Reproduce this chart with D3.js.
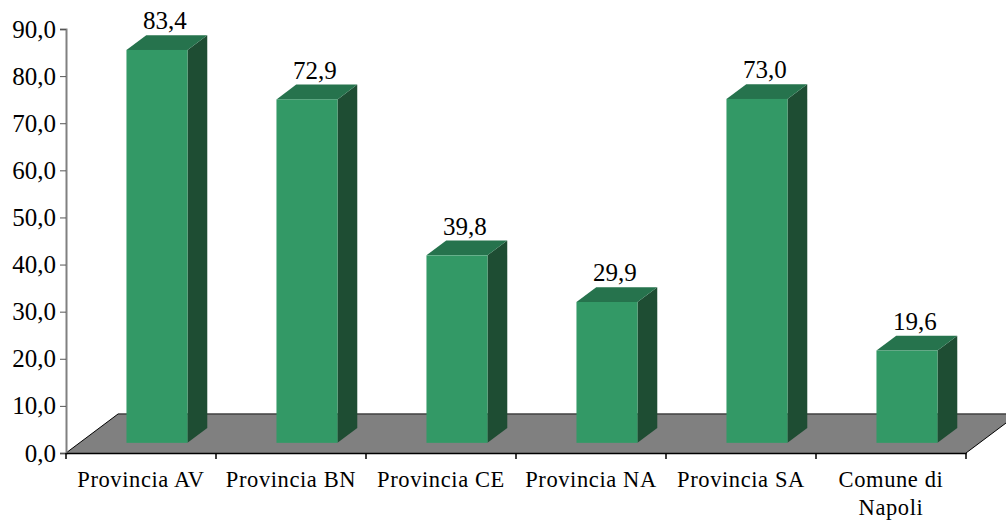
<!DOCTYPE html>
<html>
<head>
<meta charset="utf-8">
<script src="https://cdn.jsdelivr.net/npm/d3@7"></script>
<style>
  body { margin: 0; background: #fff; }
</style>
</head>
<body>
<div id="output"></div>
<script>
// Chart data
const categories = ["Provincia AV", "Provincia BN", "Provincia CE", "Provincia NA", "Provincia SA", "Comune di Napoli"];
const categoryLines = [["Provincia AV"], ["Provincia BN"], ["Provincia CE"], ["Provincia NA"], ["Provincia SA"], ["Comune di", "Napoli"]];
const values = [83.4, 72.9, 39.8, 29.9, 73.0, 19.6];
const yTicks = [0, 10, 20, 30, 40, 50, 60, 70, 80, 90];

const FONT = "Liberation Serif";

function PlotGraph(parent_element = "output") {
  const W = 1006, H = 523;
  const left = 66, right = 966, top = 29, bottom = 453;

  // 3D floor depth and bar placement along depth
  const depthX = 52, depthY = 39;
  const f1 = 0.26, f2 = 0.64;

  const locale = d3.formatLocale({decimal: ",", thousands: ".", grouping: [3], currency: ["", " €"]});
  const fmt = locale.format(".1f");

  const x = d3.scaleBand().domain(categories).range([left, right]).padding(0);
  const y = d3.scaleLinear().domain([0, 90]).range([bottom, top]);

  const svg = d3.select("#" + parent_element).append("svg")
    .attr("width", W)
    .attr("height", H)
    .attr("font-family", FONT);

  // Floor
  const floor = [[left, bottom], [right, bottom], [right + depthX, bottom - depthY], [left + depthX, bottom - depthY]];
  svg.append("polygon")
    .attr("points", floor.map(p => p.join(",")).join(" "))
    .attr("fill", "#808080")
    .attr("stroke", "none");
  svg.append("line")
    .attr("x1", left + depthX).attr("x2", right + depthX)
    .attr("y1", bottom - depthY).attr("y2", bottom - depthY)
    .attr("stroke", "#404040").attr("stroke-width", 1.5);
  [left, right].forEach(px => {
    svg.append("line")
      .attr("x1", px).attr("y1", bottom)
      .attr("x2", px + depthX).attr("y2", bottom - depthY)
      .attr("stroke", "#000").attr("stroke-width", 1);
  });

  // Bars
  const step = x.step();
  const barW = step * 0.407;
  const ax = f1 * depthX, ay = f1 * depthY;
  const bx = f2 * depthX, by = f2 * depthY;

  categories.forEach((c, i) => {
    const v = values[i];
    const x0 = x(c) + step * 0.313;
    const yt = y(v), yb = y(0);

    // side face
    svg.append("polygon")
      .attr("points", [
        [x0 + barW + ax, yt - ay], [x0 + barW + bx, yt - by],
        [x0 + barW + bx, yb - by], [x0 + barW + ax, yb - ay]
      ].map(p => p.join(",")).join(" "))
      .attr("fill", "#1e4d33");

    // top face
    svg.append("polygon")
      .attr("points", [
        [x0 + ax, yt - ay], [x0 + barW + ax, yt - ay],
        [x0 + barW + bx, yt - by], [x0 + bx, yt - by]
      ].map(p => p.join(",")).join(" "))
      .attr("fill", "#26734d");

    // front face
    svg.append("rect")
      .attr("x", x0 + ax)
      .attr("y", yt - ay)
      .attr("width", barW)
      .attr("height", yb - yt)
      .attr("fill", "#339966");

    // value label
    svg.append("text")
      .attr("x", x0 + ax + barW / 2 + 8)
      .attr("y", yt - by - 6)
      .attr("text-anchor", "middle")
      .attr("font-family", FONT)
      .attr("font-size", 25)
      .attr("fill", "#000")
      .text(fmt(v));
  });

  // Y axis
  const yAxis = svg.append("g")
    .attr("transform", `translate(${left},0)`)
    .call(d3.axisLeft(y).tickValues(yTicks).tickFormat(fmt).tickSize(6).tickPadding(4));
  yAxis.attr("font-family", FONT).attr("font-size", 25);
  yAxis.select(".domain").attr("stroke", "#808080").attr("stroke-width", 2);
  yAxis.selectAll(".tick line").attr("stroke", "#555");
  yAxis.selectAll(".tick text")
    .attr("font-family", FONT)
    .attr("font-size", 25)
    .attr("fill", "#000");

  // X axis
  const xAxis = svg.append("g")
    .attr("transform", `translate(0,${bottom})`)
    .call(d3.axisBottom(x).tickSize(0).tickFormat(""));
  xAxis.select(".domain").attr("stroke", "#000").attr("stroke-width", 1.5);
  const bounds = categories.map(c => x(c)).concat([right]);
  xAxis.selectAll(".sep")
    .data(bounds)
    .enter().append("line")
    .attr("x1", d => d).attr("x2", d => d)
    .attr("y1", 0).attr("y2", 6)
    .attr("stroke", "#000").attr("stroke-width", 1.5);

  // Category labels
  categories.forEach((c, i) => {
    const t = svg.append("text")
      .attr("x", x(c) + x.bandwidth() / 2)
      .attr("y", 487)
      .attr("text-anchor", "middle")
      .attr("font-family", FONT)
      .attr("font-size", 22.5)
      .attr("letter-spacing", 0.6)
      .attr("fill", "#000");
    categoryLines[i].forEach((line, j) => {
      t.append("tspan")
        .attr("x", x(c) + x.bandwidth() / 2)
        .attr("dy", j === 0 ? 0 : 28)
        .text(line);
    });
  });
}

document.addEventListener('DOMContentLoaded', (event) => {
  PlotGraph();
});
</script>
</body>
</html>
